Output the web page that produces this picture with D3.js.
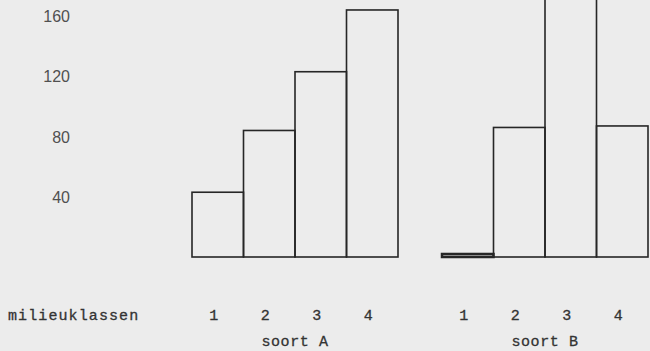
<!DOCTYPE html>
<html><head><meta charset="utf-8">
<script src="https://cdn.jsdelivr.net/npm/d3@7"></script>
<style>
html,body{margin:0;padding:0;background:#ececec;}
svg{display:block;}
</style></head>
<body>
<svg id="c" width="650" height="351"></svg>
<script>
const soorten = ["soort A", "soort B"];
const klassen = ["1", "2", "3", "4"];
const valuesA = [43, 84, 123, 164];
const valuesB = [2, 86, 190, 87];
const yTicks = [40, 80, 120, 160];
const xTitle = "milieuklassen";

const series = [valuesA, valuesB];
const data = [];
soorten.forEach((s, i) => klassen.forEach((k, j) => data.push({soort: s, klasse: k, value: series[i][j]})));

const svg = d3.select("#c");
const y = d3.scaleLinear().domain([0, 160]).range([257, 16]);
const xOuter = d3.scaleBand().domain(soorten).range([192, 648]).paddingInner(0.176).paddingOuter(0);
const xInner = d3.scaleBand().domain(klassen).range([0, xOuter.bandwidth()]).padding(0);

const ink = "#262626";
const mono = "'Liberation Mono', 'Courier New', monospace";

// y axis labels
const yAxis = d3.axisLeft(y).tickValues(yTicks).tickSize(0).tickPadding(0);
const gy = svg.append("g").attr("transform", "translate(70,0)").call(yAxis);
gy.select(".domain").remove();
gy.selectAll("text").attr("font-family", "'Liberation Sans', Arial, sans-serif")
  .attr("font-size", 16).attr("fill", "#505050").attr("dy", "0.35em");

// bars
svg.append("g").selectAll("rect").data(data).join("rect")
  .attr("x", d => xOuter(d.soort) + xInner(d.klasse))
  .attr("y", d => y(d.value))
  .attr("width", xInner.bandwidth())
  .attr("height", d => y(0) - y(d.value))
  .attr("fill", "none")
  .attr("stroke", ink)
  .attr("stroke-width", d => d.value < 5 ? 2.5 : 1.6);

// category labels
soorten.forEach(s => {
  const g = svg.append("g").attr("transform", `translate(${xOuter(s)},320)`);
  const ax = d3.axisBottom(xInner).tickSize(0).tickPadding(0);
  g.call(ax);
  g.select(".domain").remove();
  g.selectAll("text").attr("font-family", mono)
    .attr("font-size", 15).attr("fill", "#333").attr("stroke", "#333").attr("stroke-width", 0.3)
    .attr("dy", 0).attr("dx", -4).attr("y", 0);
  svg.append("text").attr("x", xOuter(s) + xOuter.bandwidth() / 2).attr("y", 346)
    .attr("text-anchor", "middle")
    .attr("font-family", mono).attr("stroke", "#333").attr("stroke-width", 0.3)
    .attr("font-size", 15).attr("letter-spacing", 0.6).attr("fill", "#333").text(s);
});

svg.append("text").attr("x", 8).attr("y", 320)
  .attr("font-family", mono).attr("stroke", "#333").attr("stroke-width", 0.3)
  .attr("font-size", 15).attr("letter-spacing", 1.1).attr("fill", "#333").text(xTitle);
</script>
</body></html>
